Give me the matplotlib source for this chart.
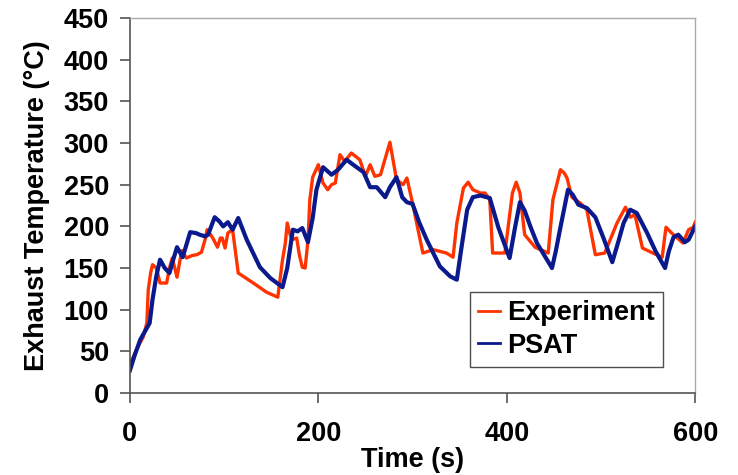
import numpy as np
import matplotlib
matplotlib.use("Agg")
import matplotlib.pyplot as plt

plt.rcParams['font.family'] = ['Liberation Sans', 'DejaVu Sans']

# Experiment (red) - time (s), temperature (C)
exp_t = [0, 7, 14, 18, 19.5, 22, 24, 28, 32, 39, 42, 45, 50, 55, 60, 66, 71, 76, 80, 82,
         88, 93, 96, 98, 101, 104, 109, 112, 115, 131, 145, 157, 162, 165, 167, 170, 172, 177,
         180, 183, 186, 189, 191, 194, 200, 205, 210, 214, 218, 223, 228, 235, 244, 250, 255,
         260, 266, 276, 283, 290, 294, 300, 306, 311, 322, 336, 343, 347, 354, 359, 364, 372,
         377, 382, 385, 398, 406, 410, 414, 419, 430, 444, 449, 457, 461, 464, 469, 478, 485,
         490, 494, 504, 517, 526, 531, 536, 544, 555, 565, 569, 575, 587, 593, 598, 600]
exp_T = [34, 52, 67, 84, 124, 144, 154, 150, 132, 132, 150, 162, 139, 171, 162, 165, 166, 169, 185, 196,
         186, 175, 186, 186, 174, 192, 196, 170, 144, 132, 121, 115, 160, 180, 204, 190, 184, 186,
         165, 151, 150, 183, 232, 259, 274, 252, 244, 250, 252, 286, 278, 288, 280, 260, 274,
         260, 262, 301, 256, 250, 258, 228, 195, 168, 172, 168, 163, 204, 246, 253, 244, 240,
         240, 232, 168, 168, 240, 253, 240, 190, 175, 168, 232, 268, 264, 258, 235, 228, 220,
         190, 166, 168, 204, 223, 211, 214, 174, 168, 163, 199, 192, 180, 196, 199, 205]

# PSAT (blue)
psat_t = [0, 5, 11, 15, 21, 24, 28, 32, 37, 42, 46, 50, 56, 60, 64, 70, 74, 80, 83, 90,
          95, 99, 104, 109, 115, 124, 138, 149, 162, 167, 173, 178, 183, 189, 194, 198, 205,
          214, 221, 230, 237, 248, 255, 262, 271, 276, 283, 289, 294, 300, 307, 315, 329, 340,
          347, 352, 358, 364, 372, 382, 391, 403, 409, 414, 419, 425, 432, 448, 452, 457, 465,
          470, 476, 485, 494, 503, 512, 518, 524, 531, 538, 549, 558, 568, 572, 577, 582, 589,
          593, 600]
psat_T = [27, 45, 64, 72, 84, 112, 140, 160, 150, 144, 160, 175, 163, 178, 193, 192, 190, 188, 190, 211,
          206, 200, 205, 196, 210, 184, 151, 138, 127, 150, 196, 194, 198, 181, 210, 244, 271,
          262, 268, 280, 274, 265, 247, 247, 235, 247, 259, 235, 229, 227, 205, 184, 152, 140,
          136, 175, 220, 235, 237, 234, 199, 162, 200, 229, 219, 200, 180, 150, 170, 199, 244,
          238, 226, 222, 211, 185, 157, 180, 204, 220, 216, 192, 170, 150, 170, 187, 190, 181,
          184, 200]

FS = 19.5

fig = plt.figure(figsize=(7.38, 4.75), dpi=100)
ax = fig.add_axes([0.176, 0.1726, 0.766, 0.7894])

ax.plot(exp_t, exp_T, color='#FF3300', lw=2.4, label='Experiment', solid_joinstyle='round')
ax.plot(psat_t, psat_T, color='#0A1A8C', lw=3.0, label='PSAT', solid_joinstyle='round')

ax.set_xlim(0, 600)
ax.set_ylim(0, 450)
ax.set_xticks([0, 200, 400, 600])
ax.set_yticks(np.arange(0, 451, 50))

for s in ['left', 'bottom']:
    ax.spines[s].set_color('#555555')
    ax.spines[s].set_linewidth(1.2)
for s in ['top', 'right']:
    ax.spines[s].set_color('#aaaaaa')
    ax.spines[s].set_linewidth(1.0)

ax.tick_params(axis='both', direction='out', length=7, width=1.2, color='#555555',
               labelsize=FS)
ax.tick_params(axis='x', pad=13)
ax.tick_params(axis='y', pad=8)
for lab in ax.get_xticklabels() + ax.get_yticklabels():
    lab.set_fontweight('bold')

ax.set_xlabel('Time (s)', fontsize=FS, fontweight='bold', labelpad=0)
ax.set_ylabel('Exhaust Temperature (°C)', fontsize=FS, fontweight='bold', labelpad=10)

leg = ax.legend(loc='upper left', bbox_to_anchor=(0.602, 0.2693),
                prop={'weight': 'bold', 'size': FS}, frameon=True, fancybox=False,
                handlelength=0.8, handletextpad=0.25, borderpad=0.3, labelspacing=0.25,
                borderaxespad=0)
leg.get_frame().set_edgecolor('#222222')
leg.get_frame().set_linewidth(1.0)
for ln in leg.get_lines():
    ln.set_linewidth(2.0)

fig.savefig('out.png', dpi=100)
